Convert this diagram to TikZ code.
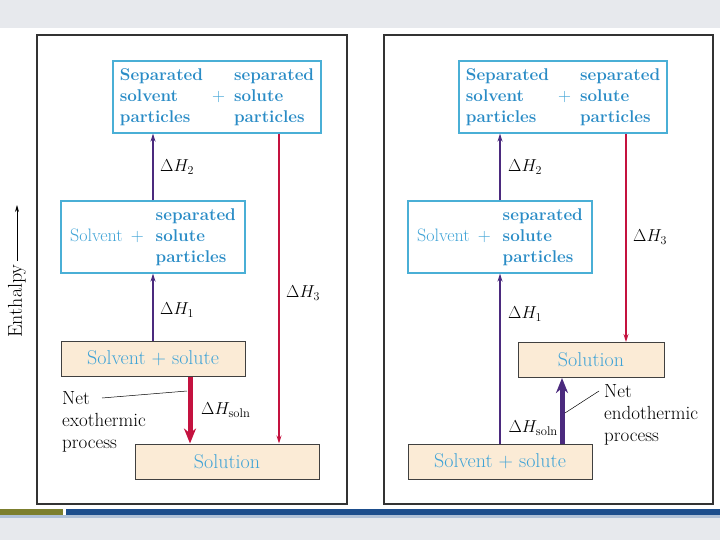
\documentclass[tikz,border=0pt]{standalone}
\usepackage{fontspec}
\usetikzlibrary{arrows.meta}
\definecolor{boxline}{HTML}{4AAFD6}
\definecolor{boldblue}{HTML}{2A8CC6}
\definecolor{lightblue}{HTML}{3FA3D6}
\definecolor{beige}{HTML}{FBEBD6}
\definecolor{purp}{HTML}{4B2A7E}
\definecolor{crim}{HTML}{C4123F}
\definecolor{slidegray}{HTML}{E7E9ED}
\definecolor{barblue}{HTML}{1D4E8D}
\definecolor{barolive}{HTML}{7C7F2E}
\newcommand{\boldstack}[1]{{\fontsize{17}{21}\selectfont\color{boldblue}\bfseries\begin{tabular}{@{}l@{}}#1\end{tabular}}}
\newcommand{\plussign}{{\color{lightblue}+}}

\begin{document}
\begin{tikzpicture}[
	x=1pt, y=-1pt,
	every node/.style={font=\fontsize{18}{21}\selectfont, inner sep=0pt},
	block/.style={
		rectangle, draw=boxline, line width=1.2pt,
		text=lightblue, minimum height=72pt
	},
	stage/.style={
		rectangle, draw=black!75, fill=beige, line width=1pt,
		text=lightblue, minimum width=184pt, minimum height=35pt,
		font=\fontsize{20}{22}\selectfont
	},
	panel/.style={draw=black!80, line width=1.3pt},
	rise/.style={draw=purp, line width=1.3pt, -{Stealth[length=8pt,width=5pt]}},
	fall/.style={draw=crim, line width=1.1pt, -{Stealth[length=8pt,width=5pt]}},
	netarrow/.style={line width=5pt, -{Stealth[length=15pt,width=12pt]}},
	lead/.style={draw=black, line width=0.5pt},
	dh/.style={anchor=west, text=black},
	note/.style={anchor=north west, align=left, text=black, font=\fontsize{19}{22}\selectfont},
	]
	\useasboundingbox (0,0) rectangle (720,540);
	\fill[slidegray] (0,0) rectangle (720,28);
	\fill[slidegray] (0,518) rectangle (720,540);
	\fill[barblue!35] (0,515) rectangle (720,518);
	\fill[barolive] (0,509) rectangle (63,515);
	\fill[barblue] (66,509) rectangle (720,515);

	\draw[panel] (37,35) rectangle (347,504);
	\draw[panel] (384,35) rectangle (713,504);

	\node[rotate=90, text=black, font=\fontsize{20}{22}\selectfont] (enth) at (17,301) {Enthalpy};
	\coordinate (etip) at (17,205);
	\draw[-{Stealth[length=7pt,width=4pt]}, line width=0.8pt, shorten <=3pt] (enth.east) -- (etip);

	% exothermic
	\node[block, minimum width=208pt] (lsep) at (217,97)
		{\boldstack{Separated\\solvent\\particles}\hspace{9pt}\plussign\hspace{9pt}\boldstack{separated\\solute\\particles}};
	\node[block, minimum width=184pt] (lmix) at (153,237)
		{Solvent\hspace{8pt}+\hspace{12pt}\boldstack{separated\\solute\\particles}};
	\node[stage] (lpure) at (153,358.5) {Solvent + solute};
	\node[stage] (lsoln) at (227,461.5) {Solution};

	\draw[rise] (lpure.north -| 153,0) -- (lmix.south -| 153,0);
	\draw[rise] (lmix.north -| 153,0) -- (lsep.south -| 153,0);
	\draw[fall] (lsep.south -| 279,0) -- (lsoln.north -| 279,0);
	\draw[netarrow, crim] (lpure.south -| 190,0) -- (lsoln.north -| 190,0);

	\node[dh] (ldh2) at (160,167) {$\Delta H_2$};
	\node[dh] (ldh1) at (160,310) {$\Delta H_1$};
	\node[dh] (ldh3) at (286,293) {$\Delta H_3$};
	\node[dh] (ldhs) at (201,410) {$\Delta H_{\mathrm{soln}}$};

	\node[note] (lnet) at (62,391) {Net\\exothermic\\process};
	\coordinate (lhit) at (187,391);
	\draw[lead] ([xshift=40pt,yshift=-7pt]lnet.north west) -- (lhit);

	% endothermic
	\node[block, minimum width=208pt] (rsep) at (563,97)
		{\boldstack{Separated\\solvent\\particles}\hspace{9pt}\plussign\hspace{9pt}\boldstack{separated\\solute\\particles}};
	\node[block, minimum width=184pt] (rmix) at (500,237)
		{Solvent\hspace{8pt}+\hspace{12pt}\boldstack{separated\\solute\\particles}};
	\node[stage, minimum width=146pt] (rsoln) at (591,360) {Solution};
	\node[stage] (rpure) at (500,461.5) {Solvent + solute};

	\draw[rise, line width=2pt] (rpure.north -| 500,0) -- (rmix.south -| 500,0);
	\draw[rise, line width=2pt] (rmix.north -| 500,0) -- (rsep.south -| 500,0);
	\draw[fall] (rsep.south -| 626,0) -- (rsoln.north -| 626,0);
	\draw[netarrow, purp] (rpure.north -| 562,0) -- (rsoln.south -| 562,0);

	\node[dh] (rdh2) at (508,167) {$\Delta H_2$};
	\node[dh] (rdh1) at (508,314) {$\Delta H_1$};
	\node[dh] (rdh3) at (633,237) {$\Delta H_3$};
	\node[dh, anchor=east] (rdhs) at (558,428) {$\Delta H_{\mathrm{soln}}$};

	\node[note] (rnet) at (604,384) {Net\\endothermic\\process};
	\coordinate (rhit) at (565,413);
	\draw[lead] ([xshift=-5pt,yshift=-7pt]rnet.north west) -- (rhit);
\end{tikzpicture}
\end{document}
